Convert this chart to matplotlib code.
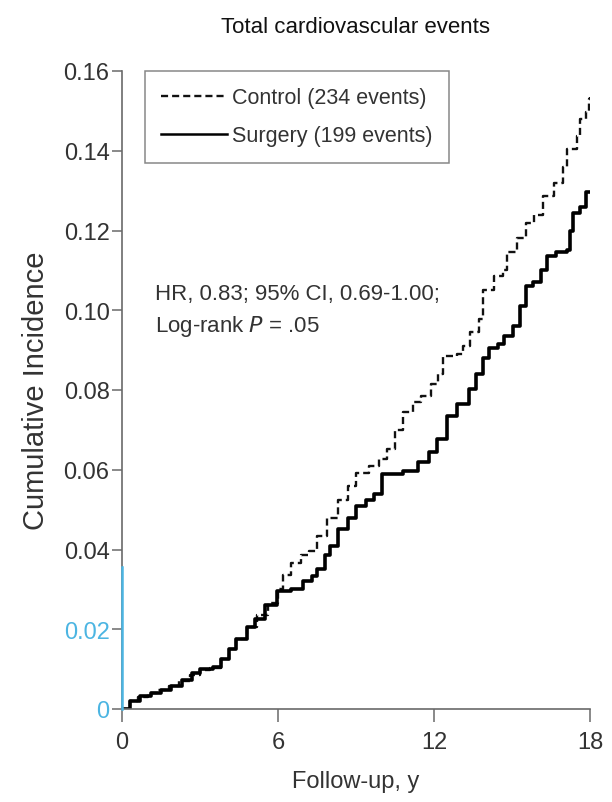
import matplotlib
matplotlib.use("Agg")
import matplotlib.pyplot as plt
from matplotlib.lines import Line2D

# ---- data ----
control_t = [0, 0.3, 0.6, 1.0, 1.4, 1.8, 2.2, 2.6, 3.0, 3.4, 3.8, 4.1, 4.4, 4.8, 5.2, 5.6,
             6.0, 6.2, 6.5, 6.9, 7.2, 7.5, 7.9, 8.3, 8.7, 9.0, 9.5, 9.9, 10.2, 10.5, 10.8,
             11.2, 11.5, 11.9, 12.15, 12.35, 12.9, 13.1, 13.4, 13.75, 13.9, 14.3, 14.65,
             14.8, 15.2, 15.55, 15.85, 16.2, 16.6, 16.95, 17.1, 17.5, 17.6, 17.85, 17.95, 18.0]
control_y = [0, 0.002, 0.003, 0.004, 0.0048, 0.0058, 0.0070, 0.0085, 0.0098, 0.0104, 0.0125,
             0.0150, 0.0175, 0.0205, 0.0235, 0.0265, 0.0300, 0.0335, 0.0365, 0.0385, 0.0395,
             0.0435, 0.0480, 0.0525, 0.0560, 0.0592, 0.0610, 0.0627, 0.0652, 0.0700, 0.0744,
             0.0770, 0.0786, 0.0815, 0.0840, 0.0886, 0.0890, 0.0910, 0.0945, 0.0978, 0.1050,
             0.1087, 0.1100, 0.1145, 0.1180, 0.1220, 0.1240, 0.1287, 0.1320, 0.1360, 0.1404,
             0.1438, 0.1480, 0.1497, 0.1530, 0.1535]

surgery_t = [0, 0.3, 0.7, 1.1, 1.5, 1.9, 2.3, 2.7, 3.0, 3.5, 3.8, 4.1, 4.4, 4.8, 5.1, 5.5,
             5.95, 6.5, 6.95, 7.3, 7.5, 7.8, 8.0, 8.3, 8.7, 9.0, 9.4, 9.7, 10.0, 10.8, 11.4,
             11.8, 12.1, 12.5, 12.9, 13.35, 13.6, 13.9, 14.1, 14.45, 14.7, 15.05, 15.3, 15.55,
             15.8, 16.1, 16.35, 16.7, 17.1, 17.25, 17.35, 17.6, 17.85, 18.0]
surgery_y = [0, 0.002, 0.0032, 0.0040, 0.0048, 0.0058, 0.0072, 0.0090, 0.0100, 0.0105, 0.0125,
             0.0150, 0.0176, 0.0205, 0.0225, 0.0260, 0.0297, 0.0300, 0.0322, 0.0334, 0.0351,
             0.0385, 0.0410, 0.0451, 0.0480, 0.0510, 0.0525, 0.0540, 0.0589, 0.0598, 0.0619,
             0.0645, 0.0677, 0.0736, 0.0765, 0.0803, 0.0840, 0.0880, 0.0905, 0.0915, 0.0936,
             0.0960, 0.1010, 0.1060, 0.1070, 0.1100, 0.1137, 0.1145, 0.1150, 0.1200, 0.1245,
             0.1260, 0.1296, 0.1296]

x_ticks = [0, 6, 12, 18]
y_ticks = [0, 0.02, 0.04, 0.06, 0.08, 0.10, 0.12, 0.14, 0.16]
y_tick_labels = ["0", "0.02", "0.04", "0.06", "0.08", "0.10", "0.12", "0.14", "0.16"]

title = "Total cardiovascular events"
control_label = "Control (234 events)"
surgery_label = "Surgery (199 events)"
hr_text = "HR, 0.83; 95% CI, 0.69-1.00;"

FONT = ["Liberation Sans", "DejaVu Sans"]
plt.rcParams["font.family"] = FONT
CYAN = "#4cb5e2"
GRAY = "#6a6a6a"
TXT = "#333333"
DASH = (0, (3, 1.7))

fig = plt.figure(figsize=(6.12, 8.03), dpi=100)
ax = fig.add_axes([122 / 612, 1 - 710 / 803, 468 / 612, (710 - 72) / 803])

ax.plot(control_t, control_y, drawstyle="steps-post", color="#111111", lw=1.7,
        linestyle=DASH)
ax.plot(surgery_t, surgery_y, drawstyle="steps-post", color="#000000", lw=2.6)

ax.set_xlim(0, 18)
ax.set_ylim(0, 0.16)
ax.set_xticks(x_ticks)
ax.set_xticklabels([str(v) for v in x_ticks])
ax.set_yticks(y_ticks)
ax.set_yticklabels(y_tick_labels)

for s in ["top", "right"]:
    ax.spines[s].set_visible(False)
for s in ["left", "bottom"]:
    ax.spines[s].set_color(GRAY)
    ax.spines[s].set_linewidth(1.2)
ax.spines["left"].set_zorder(3)
# cyan highlighted segment of the y-axis
ax.plot([0, 0], [0, 0.0356], color=CYAN, lw=1.8, clip_on=False, zorder=4)

ax.tick_params(axis="y", direction="out", length=7, width=1.1, color=GRAY,
               labelsize=17, labelcolor=TXT, pad=2)
ax.tick_params(axis="x", direction="out", length=9, width=1.1, color=GRAY,
               labelsize=17, labelcolor=TXT, pad=7)
for lbl in ax.get_yticklabels()[:2]:
    lbl.set_color(CYAN)

ax.set_xlabel("Follow-up, y", fontsize=17, color=TXT, labelpad=12)
ax.set_ylabel("Cumulative Incidence", fontsize=21, color=TXT, labelpad=10)
ax.set_title(title, fontsize=16, color="#111111", pad=28)

handles = [Line2D([], [], color="#111111", lw=1.7, linestyle=DASH),
           Line2D([], [], color="#000000", lw=1.8)]
leg = ax.legend(handles, [control_label, surgery_label], loc="upper left",
                bbox_to_anchor=(23 / 468, 1.0), fontsize=15.5, frameon=True, fancybox=False,
                edgecolor=GRAY, handlelength=3.05, handletextpad=0.25,
                borderpad=0.75, labelspacing=0.8, borderaxespad=0)
leg.get_frame().set_linewidth(1.1)
for t in leg.get_texts():
    t.set_color(TXT)

ax.text(1.27, 0.1043, hr_text, fontsize=16, color=TXT, va="center")
ax.text(1.27, 0.0963, "Log-rank $\\it{P}$ = .05", fontsize=16, color=TXT, va="center")

fig.savefig("out.png", dpi=100)
